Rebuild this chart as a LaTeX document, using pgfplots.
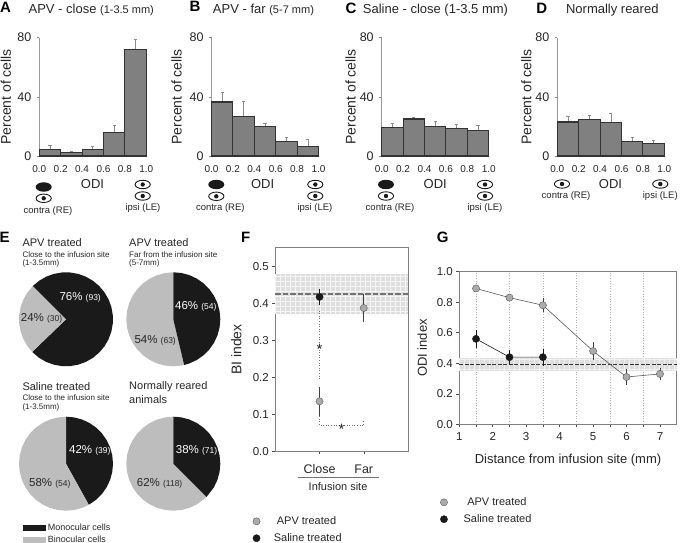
\documentclass[border=0pt]{standalone}
\usepackage{fontspec}
\setmainfont{Liberation Sans}
\usepackage{pgfplots}
\pgfplotsset{compat=1.18}
\definecolor{tx}{HTML}{262626}
\definecolor{barf}{HTML}{808080}
\definecolor{bare}{HTML}{333333}
\definecolor{dk}{HTML}{1A1A1A}
\definecolor{lg}{HTML}{BDBDBD}
\definecolor{mk}{HTML}{ABABAB}
\definecolor{band}{HTML}{DEDEDE}
\newcommand\T[4][]{\node[anchor=west,inner sep=0,text=tx,#1] at (#2pt,{(543-#3)*1pt}) {#4};}
\newcommand\C[4][]{\node[anchor=center,inner sep=0,text=tx,#1] at (#2pt,{(543-#3)*1pt}) {#4};}
\newcommand\Eye[2]{\begin{scope}[shift={(#1pt,{(543-#2)*1pt})}]
 \draw[dk,line width=.9pt,fill=white] (0,0) ellipse (7.6pt and 4.2pt);
 \fill[dk] (0,0) circle (2.2pt);\end{scope}}
\newcommand\Shut[2]{\fill[dk] (#1pt,{(543-#2)*1pt}) ellipse (8pt and 4.7pt);}
\pgfplotsset{
 every axis title shift=0pt,
 barax/.style={scale only axis,width=107pt,height=118.3pt,anchor=south west,
  xmin=0,xmax=1,ymin=0,ymax=80,axis lines=left,axis line style={-},
  x axis line style={draw=bare,line width=.7pt},y axis line style={draw=black!40,line width=.7pt},
  xtick={0,0.2,0.4,0.6,0.8,1},ytick={0,40,80},
  xtick style={draw=none},ytick style={draw=black!45,line width=.5pt},
  major tick length=2.5pt,tick align=outside,
  /pgf/number format/assume math mode=true,
  xticklabel style={font=\fontsize{10}{10}\selectfont,text=tx,/pgf/number format/fixed,/pgf/number format/fixed zerofill,/pgf/number format/precision=1},
  yticklabel style={font=\fontsize{12.5}{12}\selectfont,text=tx},
  xticklabel shift=3pt,yticklabel shift=2pt,
  ylabel={Percent of cells},xlabel={ODI},
  label style={font=\fontsize{14}{14}\selectfont,text=tx},
  xlabel style={at={(axis description cs:0.497,-0.237)},anchor=center,font=\fontsize{13}{13}\selectfont},
  ylabel style={at={(axis description cs:-0.313,0.5)},anchor=center},
  clip=false,
  title style={anchor=west,inner sep=0,text=tx,font=\fontsize{13}{13}\selectfont}},
 bars/.style={ybar interval,fill=barf,draw=bare,line width=1.1pt},
 errs/.style={draw=none,mark=none,forget plot,error bars/.cd,y dir=plus,y explicit,error mark=-,error mark options={draw=black!45,mark size=1.6pt,rotate=90},error bar style={draw=black!45,line width=.6pt}},
 pie/.style={scale only axis,width=94pt,height=94pt,anchor=south west,xmin=-1,xmax=1,ymin=-1,ymax=1,hide axis,data cs=polar,clip=false},
 blk/.style={fill=dk,draw=none},
 gry/.style={fill=lg,draw=none},
 dots/.style={draw=black!55,line width=.6pt,dotted,forget plot},
 mA/.style={only marks,mark=*,mark size=3.6pt,mark options={fill=mk,draw=black!65,line width=.4pt},error bars/.cd,y dir=both,y explicit,error mark=none,error bar style={draw=black!75,line width=.7pt}},
 mS/.style={only marks,mark=*,mark size=3.6pt,mark options={fill=dk,draw=dk,line width=.4pt},error bars/.cd,y dir=both,y explicit,error mark=none,error bar style={draw=dk,line width=.7pt}},
 lineax/.style={scale only axis,anchor=south west,axis line style={draw=black!50,line width=.9pt},
  /pgf/number format/assume math mode=true,
  tick style={draw=black!70,line width=.5pt},major tick length=3pt,tick align=outside,
  xtick pos=bottom,ytick pos=left,clip=false,
  yticklabel style={font=\fontsize{11.5}{12}\selectfont,text=tx,/pgf/number format/fixed,/pgf/number format/fixed zerofill,/pgf/number format/precision=1},
  legend style={draw=none,fill=none,inner sep=0pt,font=\fontsize{11}{11}\selectfont,text=tx,row sep=3.4pt,legend cell align=left}},
}
\begin{document}
\begin{tikzpicture}
\path[use as bounding box] (0,0) rectangle (683pt,543pt);

% --- A
\begin{axis}[barax,at={(39.3pt,387pt)},title={APV - close {\fontsize{11}{11}\selectfont(1-3.5 mm)}},title style={at={(axis description cs:-0.102,1.234)}}]
\addplot[errs] coordinates {(0.1,4.5) +- (0,3) (0.3,2.5) +- (0,1) (0.5,4.5) +- (0,2) (0.7,16) +- (0,5) (0.9,72) +- (0,7)};
\addplot[bars] coordinates {(0,4.5) (0.2,2.5) (0.4,4.5) (0.6,16) (0.8,72) (1,72)};
\end{axis}
% --- B
\begin{axis}[barax,at={(211.5pt,387pt)},title={APV - far {\fontsize{11}{11}\selectfont(5-7 mm)}},title style={at={(axis description cs:0.012,1.234)}},ylabel style={at={(axis description cs:-0.325,0.5)}},xlabel style={at={(axis description cs:0.478,-0.237)}}]
\addplot[errs] coordinates {(0.1,36.5) +- (0,6.5) (0.3,27) +- (0,10) (0.5,20) +- (0,2.5) (0.7,10) +- (0,2.5) (0.9,6.5) +- (0,5)};
\addplot[bars] coordinates {(0,36.5) (0.2,27) (0.4,20) (0.6,10) (0.8,6.5) (1,6.5)};
\end{axis}
% --- C
\begin{axis}[barax,at={(381.7pt,387pt)},title={Saline - close (1-3.5 mm)},title style={at={(axis description cs:-0.178,1.234)}},ylabel style={at={(axis description cs:-0.29,0.5)}},xlabel style={at={(axis description cs:0.5,-0.237)}}]
\addplot[errs] coordinates {(0.1,19.5) +- (0,3) (0.3,25) +- (0,1) (0.5,20) +- (0,3.5) (0.7,18.5) +- (0,3) (0.9,17.5) +- (0,3.5)};
\addplot[bars] coordinates {(0,19.5) (0.2,25) (0.4,20) (0.6,18.5) (0.8,17.5) (1,17.5)};
\end{axis}
% --- D
\begin{axis}[barax,at={(557.3pt,387pt)},title={Normally reared},title style={at={(axis description cs:0.08,1.234)}},ylabel style={at={(axis description cs:-0.29,0.5)}},xlabel style={at={(axis description cs:0.497,-0.237)}}]
\addplot[errs] coordinates {(0.1,23) +- (0,4) (0.3,24.5) +- (0,3) (0.5,22.5) +- (0,6.5) (0.7,9.5) +- (0,3) (0.9,8.5) +- (0,2)};
\addplot[bars] coordinates {(0,23) (0.2,24.5) (0.4,22.5) (0.6,9.5) (0.8,8.5) (1,8.5)};
\end{axis}

% --- E pies
\begin{axis}[pie,at={(19pt,176.7pt)}]
\addplot[blk] coordinates {(0,0) (135,1) (125,1) (115,1) (105,1) (95,1) (85,1) (75,1) (65,1) (55,1) (45,1) (35,1) (25,1) (15,1) (5,1) (-5,1) (-15,1) (-25,1) (-35,1) (-45,1) (-55,1) (-65,1) (-75,1) (-85,1) (-95,1) (-105,1) (-115,1) (-125,1) (-136,1)};
\addplot[gry] coordinates {(0,0) (135,1) (145,1) (155,1) (165,1) (175,1) (185,1) (195,1) (205,1) (215,1) (224,1)};
\end{axis}
\begin{axis}[pie,at={(126.3pt,176.7pt)}]
\addplot[gry] coordinates {(0,0) (90,1) (100,1) (110,1) (120,1) (130,1) (140,1) (150,1) (160,1) (170,1) (180,1) (190,1) (200,1) (210,1) (220,1) (230,1) (240,1) (250,1) (260,1) (270,1) (280,1) (283.4,1)};
\addplot[blk] coordinates {(0,0) (90,1) (80,1) (70,1) (60,1) (50,1) (40,1) (30,1) (20,1) (10,1) (0,1) (-10,1) (-20,1) (-30,1) (-40,1) (-50,1) (-60,1) (-70,1) (-76.6,1)};
\end{axis}
\begin{axis}[pie,at={(19pt,32.3pt)},
 legend image code/.code={\path[#1] (0pt,-2.6pt) rectangle (23pt,2.6pt);},
 legend style={at={(axis description cs:0.04,-0.118)},anchor=north west,draw=none,fill=none,inner sep=0pt,font=\fontsize{9}{9}\selectfont,text=tx,row sep=0pt,legend cell align=left}]
\addplot[blk] coordinates {(0,0) (90,1) (80,1) (70,1) (60,1) (50,1) (40,1) (30,1) (20,1) (10,1) (0,1) (-10,1) (-20,1) (-30,1) (-40,1) (-50,1) (-61,1)};
\addlegendentry{Monocular cells}
\addplot[gry] coordinates {(0,0) (90,1) (100,1) (110,1) (120,1) (130,1) (140,1) (150,1) (160,1) (170,1) (180,1) (190,1) (200,1) (210,1) (220,1) (230,1) (240,1) (250,1) (260,1) (270,1) (280,1) (290,1) (299,1)};
\addlegendentry{Binocular cells}
\end{axis}
\begin{axis}[pie,at={(126.3pt,32.3pt)}]
\addplot[gry] coordinates {(0,0) (90,1) (100,1) (110,1) (120,1) (130,1) (140,1) (150,1) (160,1) (170,1) (180,1) (190,1) (200,1) (210,1) (220,1) (230,1) (240,1) (250,1) (260,1) (270,1) (280,1) (290,1) (300,1) (315,1)};
\addplot[blk] coordinates {(0,0) (90,1) (80,1) (70,1) (60,1) (50,1) (40,1) (30,1) (20,1) (10,1) (0,1) (-10,1) (-20,1) (-30,1) (-45,1)};
\end{axis}

% --- F
\begin{axis}[lineax,at={(275.3pt,91.7pt)},width=132.7pt,height=203.6pt,xmin=0,xmax=3,ymin=0,ymax=0.55,
 xtick={1,2},xticklabels={Close,Far},ytick={0,0.1,0.2,0.3,0.4,0.5},
 xticklabel style={font=\fontsize{12.5}{12.5}\selectfont,text=tx},xticklabel shift=7pt,
 xlabel={Infusion site},xlabel style={at={(axis description cs:0.473,-0.174)},anchor=center,font=\fontsize{11}{11}\selectfont,text=tx},
 ylabel={BI index},ylabel style={at={(axis description cs:-0.293,0.5)},anchor=center,font=\fontsize{14}{14}\selectfont,text=tx},
 legend style={at={(axis description cs:-0.17,-0.31)},anchor=north west}]
\addplot[fill=band,draw=none,forget plot] coordinates {(0,0.37) (3,0.37) (3,0.48) (0,0.48)};
\draw[white,line width=.3pt,step=5pt,opacity=.7] (axis cs:0,0.37) grid (axis cs:3,0.48);
\addplot[draw=black!55,line width=1.1pt,dash pattern=on 5.5pt off 2pt,forget plot] coordinates {(0,0.425) (3,0.425)};
\addplot[dots] coordinates {(1,0.38) (1,0.195)};
\addplot[dots] coordinates {(1,0.095) (1,0.07) (2,0.07) (2,0.082)};
\addplot[mA] coordinates {(1,0.135) +- (0,0.04) (2,0.387) +- (0,0.037)};
\addlegendentry{\hspace{14.7pt}APV treated}
\addplot[mS] coordinates {(1,0.417) +- (0,0.022)};
\addlegendentry{\hspace{11.7pt}Saline treated}
\node[font=\fontsize{15}{15}\selectfont,text=tx] at (axis cs:1,0.276) {*};
\node[font=\fontsize{15}{15}\selectfont,text=tx] at (axis cs:1.5,0.059) {*};
\end{axis}

% --- G
\begin{axis}[lineax,at={(459.3pt,118.7pt)},width=217.4pt,height=152.6pt,xmin=1,xmax=7.5,ymin=0,ymax=1,
 xtick={1,2,3,4,5,6,7},minor xtick={1.5,2.5,3.5,4.5,5.5,6.5},xminorgrids=true,
 minor grid style={draw=black!30,line width=.6pt,dotted},minor tick length=3pt,
 xticklabel style={font=\fontsize{11.5}{12}\selectfont,text=tx},xticklabel shift=2pt,
 ytick={0,0.2,0.4,0.6,0.8,1},
 xlabel={Distance from infusion site (mm)},xlabel style={at={(axis description cs:0.5,-0.235)},anchor=center,font=\fontsize{13}{13}\selectfont,text=tx},
 ylabel={ODI index},ylabel style={at={(axis description cs:-0.17,0.5)},anchor=center,font=\fontsize{13}{13}\selectfont,text=tx},
 legend style={at={(axis description cs:-0.088,-0.466)},anchor=north west}]
\addplot[fill=band,draw=none,forget plot] coordinates {(1,0.35) (7.5,0.35) (7.5,0.435) (1,0.435)};
\draw[white,line width=.3pt,step=5pt,opacity=.6] (axis cs:1,0.35) grid (axis cs:7.5,0.435);
\addplot[draw=black!80,line width=.7pt,dash pattern=on 4pt off 1.5pt,forget plot] coordinates {(1,0.395) (7.5,0.395)};
\addplot[draw=black!65,line width=.6pt,forget plot] coordinates {(1.5,0.89) (2.5,0.83) (3.5,0.78) (5,0.48) (6,0.31) (7,0.33)};
\addplot[draw=dk,line width=.6pt,forget plot] coordinates {(1.5,0.56) (2.5,0.44) (3.5,0.44)};
\addplot[mA] coordinates {(1.5,0.89) +- (0,0.02) (2.5,0.83) +- (0,0.02) (3.5,0.78) +- (0,0.045) (5,0.48) +- (0,0.06) (6,0.31) +- (0,0.05) (7,0.33) +- (0,0.04)};
\addlegendentry{\hspace{17.7pt}APV treated}
\addplot[mS] coordinates {(1.5,0.56) +- (0,0.06) (2.5,0.44) +- (0,0.05) (3.5,0.44) +- (0,0.055)};
\addlegendentry{\hspace{14pt}Saline treated}
\end{axis}

% --- Panel letters
\begin{scope}[font=\fontsize{15}{15}\selectfont\bfseries]
\C[text=black]{5.5}{7}{A}\C[text=black]{195}{6}{B}\C[text=black]{351}{8}{C}\C[text=black]{541.7}{8}{D}
\C[text=black]{4.7}{237}{E}\C[text=black]{245.7}{237}{F}\C[text=black]{442.7}{237}{G}
\end{scope}

% --- eye glyphs
\begin{scope}[font=\fontsize{9.5}{9.5}\selectfont]
\Shut{43.7}{187}\Eye{43.7}{198.3}\C{48}{210.7}{contra (RE)}
\Eye{142.7}{184.5}\Eye{142.7}{196}\C{143}{208}{ipsi (LE)}
\Shut{216.3}{184.5}\Eye{216.3}{196.3}\C{220.3}{208}{contra (RE)}
\Eye{315.3}{184.5}\Eye{315.3}{196}\C{315}{208}{ipsi (LE)}
\Shut{386}{184.5}\Eye{386}{196}\C{390}{208}{contra (RE)}
\Eye{485}{184.5}\Eye{485}{196}\C{485}{208}{ipsi (LE)}
\Eye{562}{184}\C{566}{196}{contra (RE)}
\Eye{660.3}{184}\C{660.3}{196}{ipsi (LE)}
\end{scope}

% --- E texts
\begin{scope}[font=\fontsize{11}{11}\selectfont]
\T{22.3}{243}{APV treated}\T{129}{243}{APV treated}
\T{22.3}{386.7}{Saline treated}\T{129}{386.7}{Normally reared}\T{129}{399.3}{animals}
\end{scope}
\begin{scope}[font=\fontsize{8}{8}\selectfont]
\T{22.3}{254.3}{Close to the infusion site}\T{22.3}{263.3}{(1-3.5mm)}
\T{129}{254.3}{Far from the infusion site}\T{129}{263.3}{(5-7mm)}
\T{22.3}{397.7}{Close to the infusion site}\T{22.3}{407.3}{(1-3.5mm)}
\end{scope}
\newcommand\PL[4][tx]{\T[text=#1]{#2}{#3}{\fontsize{11.5}{11.5}\selectfont #4}}
\newcommand\sm[1]{{\fontsize{8.5}{8.5}\selectfont #1}}
\PL[white]{59.3}{297}{76\% \sm{(93)}}
\PL{20.7}{318.3}{24\% \sm{(30)}}
\PL[white]{175}{306}{46\% \sm{(54)}}
\PL{134.3}{340}{54\% \sm{(63)}}
\PL[white]{69}{450.7}{42\% \sm{(39)}}
\PL{29}{483.3}{58\% \sm{(54)}}
\PL[white]{175.7}{450.7}{38\% \sm{(71)}}
\PL{136.7}{483.3}{62\% \sm{(118)}}

% underline below Close / Far
\draw[black!55,line width=.9pt] (298.3pt,66pt) -- (378.7pt,66pt);
\end{tikzpicture}
\end{document}
